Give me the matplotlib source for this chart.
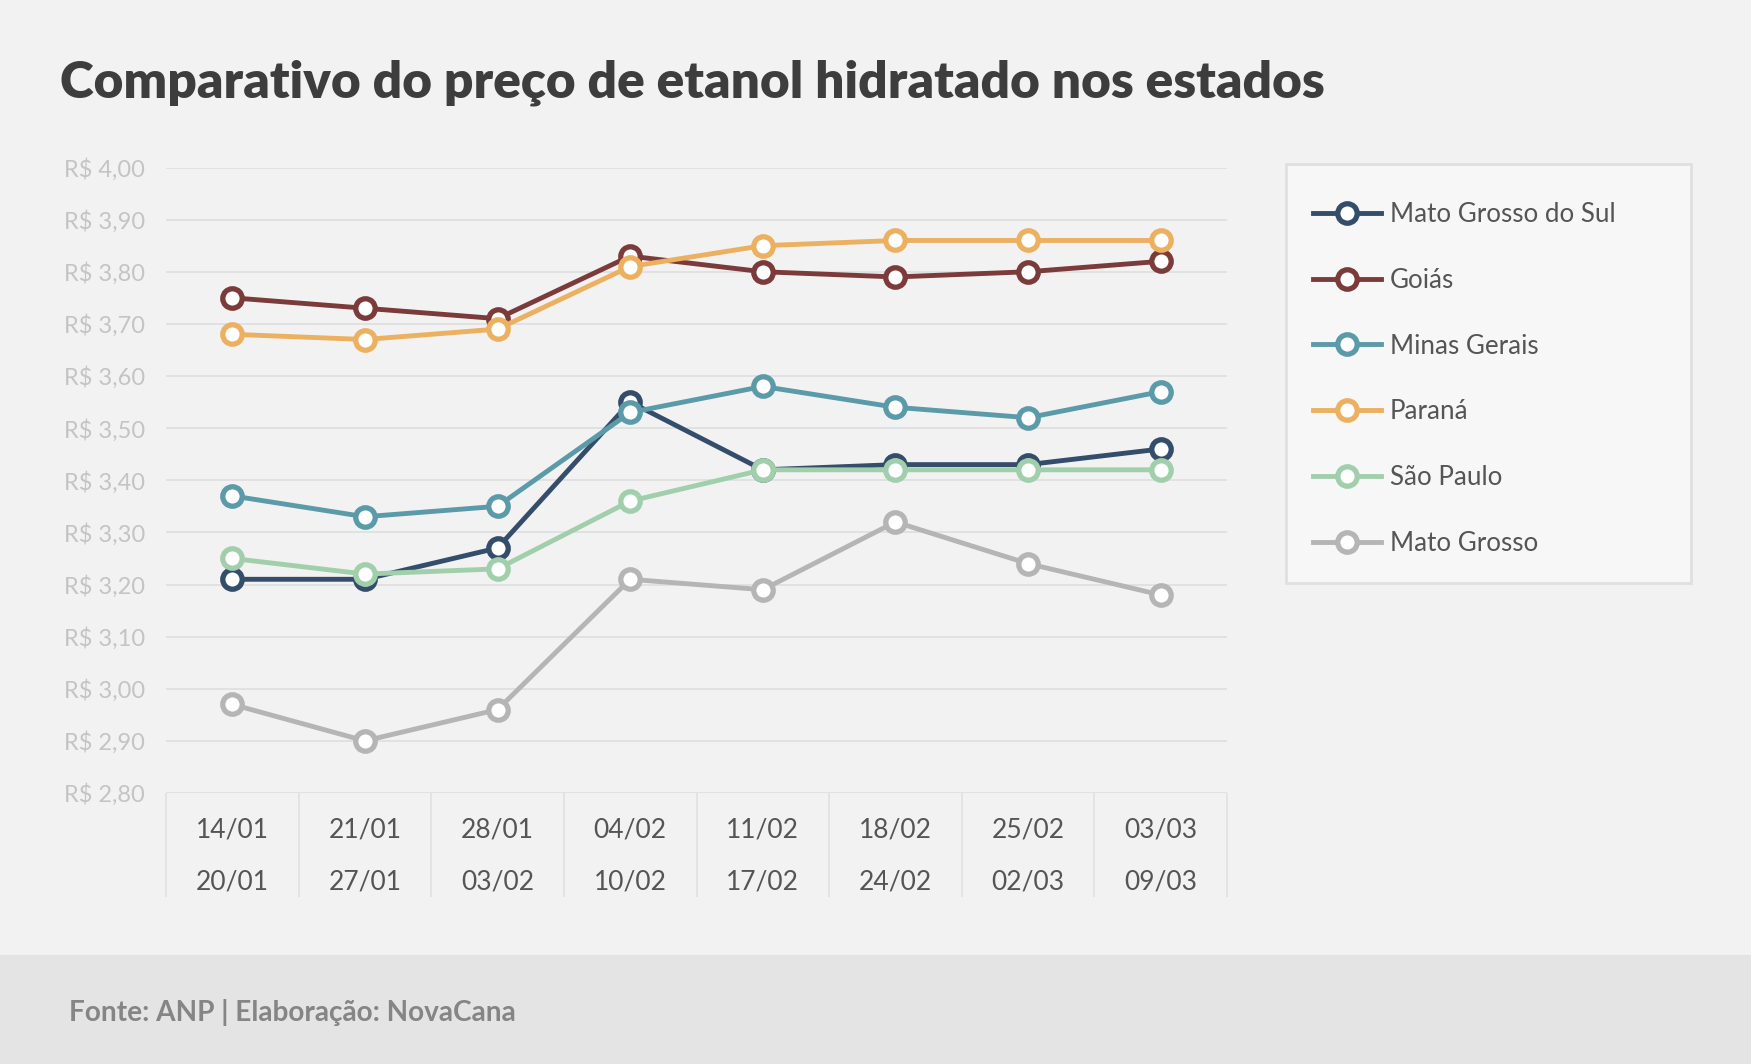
import matplotlib
matplotlib.use("Agg")
import matplotlib.pyplot as plt
from matplotlib.patches import Rectangle
from matplotlib.ticker import FuncFormatter, MultipleLocator

plt.rcParams['font.family'] = ['Lato', 'DejaVu Sans']

weeks_start = ["14/01", "21/01", "28/01", "04/02", "11/02", "18/02", "25/02", "03/03"]
weeks_end = ["20/01", "27/01", "03/02", "10/02", "17/02", "24/02", "02/03", "09/03"]

states = ["Mato Grosso do Sul", "Goiás", "Minas Gerais", "Paraná", "São Paulo", "Mato Grosso"]
mato_grosso_do_sul = [3.21, 3.21, 3.27, 3.55, 3.42, 3.43, 3.43, 3.46]
goias = [3.75, 3.73, 3.71, 3.83, 3.80, 3.79, 3.80, 3.82]
minas_gerais = [3.37, 3.33, 3.35, 3.53, 3.58, 3.54, 3.52, 3.57]
parana = [3.68, 3.67, 3.69, 3.81, 3.85, 3.86, 3.86, 3.86]
sao_paulo = [3.25, 3.22, 3.23, 3.36, 3.42, 3.42, 3.42, 3.42]
mato_grosso = [2.97, 2.90, 2.96, 3.21, 3.19, 3.32, 3.24, 3.18]
series = [mato_grosso_do_sul, goias, minas_gerais, parana, sao_paulo, mato_grosso]
colors = ["#344d6b", "#7b3b3b", "#5b9aa8", "#ecb061", "#a1cfab", "#b5b5b5"]

W, H = 1751, 1064
fig = plt.figure(figsize=(W / 100, H / 100), dpi=100, facecolor="#f2f2f2")

# footer band
fig.patches.append(Rectangle((0, 0), 1, (H - 955) / H, transform=fig.transFigure,
                             facecolor="#e4e4e4", edgecolor="none", zorder=0))
fig.text(69 / W, 1 - 1012 / H, "Fonte: ANP | Elaboração: NovaCana", fontsize=20.2,
         fontweight="bold", color="#858585", va="center", ha="left")

fig.text(60 / W, 1 - 98 / H, "Comparativo do preço de etanol hidratado nos estados",
         fontsize=37.0, fontweight="heavy", color="#3d3d3d", va="baseline", ha="left")

left, right, top, bottom = 166, 1227, 167.5, 793
ax = fig.add_axes([left / W, 1 - bottom / H, (right - left) / W, (bottom - top) / H])
ax.set_facecolor("none")
x = list(range(len(weeks_start)))
for name, vals, c in zip(states, series, colors):
    ax.plot(x, vals, color=c, lw=3.5, marker="o", ms=14, mfc="white", mec=c, mew=3.8,
            label=name, solid_joinstyle="round", clip_on=False, zorder=3)

ax.set_xlim(-0.5, len(x) - 0.5)
ax.set_ylim(2.8, 4.0)
ax.yaxis.set_major_locator(MultipleLocator(0.1))
ax.yaxis.set_major_formatter(FuncFormatter(lambda v, p: "R$ " + f"{v:.2f}".replace(".", ",")))
ax.grid(axis="y", color="#e0e0e0", lw=1.3)
ax.set_axisbelow(True)
for s in ax.spines.values():
    s.set_visible(False)
ax.tick_params(axis="y", length=0, pad=15, labelsize=17, labelcolor="#c4c4c4")
ax.set_xticks(x)
ax.set_xticklabels([])
ax.tick_params(axis="x", length=0)

# category table below the axis
depth = (897 - 793) / (bottom - top)
bounds = [i - 0.5 for i in range(len(x) + 1)]
ax.vlines(bounds, -depth, 0, transform=ax.get_xaxis_transform(), colors="#e0e0e0",
          lw=1.2, clip_on=False)
r1 = -(830 - 793) / (bottom - top)
r2 = -(882 - 793) / (bottom - top)
for i in x:
    ax.text(i, r1, weeks_start[i], transform=ax.get_xaxis_transform(), ha="center",
            va="center", fontsize=19, color="#555555")
    ax.text(i, r2, weeks_end[i], transform=ax.get_xaxis_transform(), ha="center",
            va="center", fontsize=19, color="#555555")

# legend box
bx0, by0, bx1, by1 = 1286, 164, 1691, 583
fig.patches.append(Rectangle((bx0 / W, 1 - by1 / H), (bx1 - bx0) / W, (by1 - by0) / H,
                             transform=fig.transFigure, facecolor="#f7f7f7",
                             edgecolor="#e0e0e0", lw=2, zorder=1))
handles, labels = ax.get_legend_handles_labels()
leg = fig.legend(handles, labels, loc="upper left",
                 bbox_to_anchor=(1313 / W, 1 - 202 / H), frameon=False,
                 fontsize=18.7, labelcolor="#555555", handlelength=2.6,
                 handletextpad=0.35, labelspacing=1.57, borderpad=0, borderaxespad=0)
leg.set_zorder(2)

fig.savefig("out.png", dpi=100, facecolor=fig.get_facecolor())
